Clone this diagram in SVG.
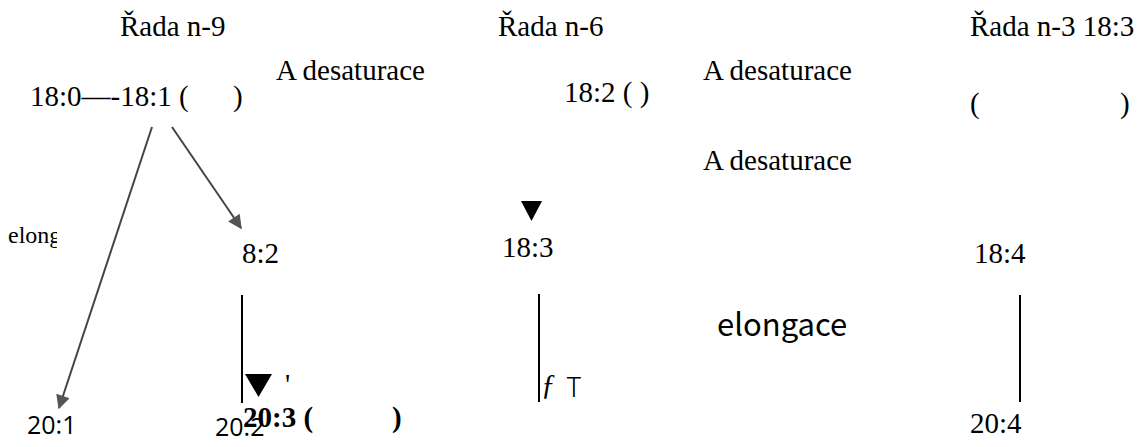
<svg xmlns="http://www.w3.org/2000/svg" width="1140" height="447" viewBox="0 0 1140 447">
<style>
.t{font-family:"Liberation Serif","Times New Roman",serif;font-size:29px;fill:#000}
.s{font-family:"Open Sans","Noto Sans",sans-serif;font-size:25px;fill:#000}
.cj{font-family:"Noto Sans CJK JP","Noto Sans",sans-serif;fill:#000}
.b{font-weight:bold}
.ln{stroke:#000;stroke-width:2;fill:none}
.ar{stroke:#444;stroke-width:2;fill:none;marker-end:url(#ah)}
</style>
<defs>
<marker id="ah" viewBox="0 0 10 10" refX="9" refY="5" markerWidth="17" markerHeight="14" orient="auto" markerUnits="userSpaceOnUse">
<path d="M0,0 L10,5 L0,10 z" fill="#555"/>
</marker>
<clipPath id="clipElong"><rect x="0" y="215" width="57" height="45"/></clipPath>
</defs>
<rect width="1140" height="447" fill="#fff"/>
<g id="headers">
<text class="t" x="120" y="36">Řada n-9</text>
<text class="t" x="498" y="36">Řada n-6</text>
<text class="t" x="970" y="36">Řada n-3 18:3</text>
</g>
<g id="labels">
<text class="t" x="8" y="243" style="font-size:24px" clip-path="url(#clipElong)">elong</text>
<text class="t" x="276" y="80">A desaturace</text>
<text class="t" x="703" y="80">A desaturace</text>
<text class="t" x="703" y="170">A desaturace</text>
<text class="cj" x="717" y="336" style="font-size:31px">elongace</text>
</g>
<g id="n-18-1"><text class="t" x="30" y="106">18:0—-18:1 (</text><text class="t" x="233" y="106">)</text></g>
<g id="n-18-2"><text class="t" x="564" y="102">18:2 ( )</text></g>
<g id="n-18-3-n3"><text class="t" x="970" y="113">(</text><text class="t" x="1120" y="113">)</text></g>
<g id="n-8-2"><text class="t" x="242" y="263">8:2</text></g>
<g id="n-18-3"><text class="t" x="502" y="257">18:3</text></g>
<g id="n-18-4"><text class="t" x="974" y="263">18:4</text></g>
<g id="n-20-1"><text class="s" x="27" y="434">20:1</text></g>
<g id="n-20-2"><text class="s" x="215" y="436">20:2</text></g>
<g id="n-20-3"><text class="t b" x="243" y="427">20:3 (</text><text class="t b" x="392" y="427">)</text></g>
<g id="n-20-4"><text class="t" x="970" y="433">20:4</text></g>
<g id="connectors">
<line class="ar" x1="152" y1="127" x2="59" y2="408"/>
<line class="ar" x1="172" y1="127" x2="241" y2="228"/>
<line class="ln" x1="242" y1="295" x2="242" y2="403"/>
<line class="ln" x1="539" y1="294" x2="539" y2="402"/>
<line class="ln" x1="1020" y1="295" x2="1020" y2="402"/>
<path d="M521,201 L542,201 L531.5,221 z" fill="#000"/>
<path d="M245,374 L272,374 L258.5,397 z" fill="#000"/>
<text class="t" x="285" y="394">'</text>
<text class="t" x="541" y="394" font-style="italic">ƒ</text>
<text class="cj" x="566" y="397" style="font-size:27px;font-weight:300">T</text>
</g>
</svg>
